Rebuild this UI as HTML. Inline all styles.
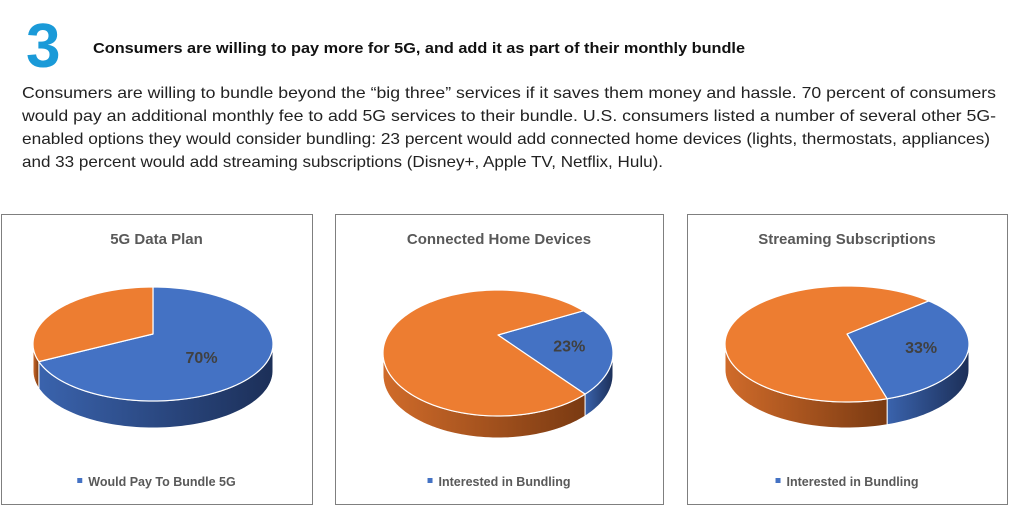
<!DOCTYPE html>
<html><head><meta charset="utf-8"><style>
html,body{margin:0;padding:0;background:#fff;width:1017px;height:517px;overflow:hidden}
svg{display:block}
</style></head><body>
<svg id="page" width="1017" height="517" viewBox="0 0 1017 517" xmlns="http://www.w3.org/2000/svg">
<defs>
<linearGradient id="gBlue" x1="0" x2="1" y1="0" y2="0"><stop offset="0" stop-color="#3a63ad"/><stop offset="1" stop-color="#1c2f58"/></linearGradient>
<linearGradient id="gOrange" x1="0" x2="1" y1="0" y2="0"><stop offset="0" stop-color="#d06b2a"/><stop offset="1" stop-color="#7a3a12"/></linearGradient>
</defs>
<text x="26" y="67" font-family="Liberation Sans, sans-serif" font-weight="bold" font-size="62" fill="#1a9ad8">3</text>
<text x="93" y="53" font-family="Liberation Sans, sans-serif" font-weight="bold" font-size="15" fill="#111" textLength="652" lengthAdjust="spacingAndGlyphs">Consumers are willing to pay more for 5G, and add it as part of their monthly bundle</text>
<g font-family="Liberation Sans, sans-serif" font-size="16" fill="#222">
<text x="22" y="98" textLength="974" lengthAdjust="spacingAndGlyphs">Consumers are willing to bundle beyond the “big three” services if it saves them money and hassle. 70 percent of consumers</text>
<text x="22" y="121" textLength="974" lengthAdjust="spacingAndGlyphs">would pay an additional monthly fee to add 5G services to their bundle. U.S. consumers listed a number of several other 5G-</text>
<text x="22" y="144" textLength="968" lengthAdjust="spacingAndGlyphs">enabled options they would consider bundling: 23 percent would add connected home devices (lights, thermostats, appliances)</text>
<text x="22" y="167" textLength="641" lengthAdjust="spacingAndGlyphs">and 33 percent would add streaming subscriptions (Disney+, Apple TV, Netflix, Hulu).</text>
</g>
<g id="charts"></g>
</svg>
<script>
const chartTitles = ["5G Data Plan", "Connected Home Devices", "Streaming Subscriptions"];
const legendLabels = ["Would Pay To Bundle 5G", "Interested in Bundling", "Interested in Bundling"];
const bluePercents = [70, 23, 33];
const startAngles = [0, 48, 42];

const NS = "http://www.w3.org/2000/svg";
const layout = [
  {x:1, w:311, cx:153, cy:344, rx:120, ry:57, d:27, vy:-10},
  {x:335, w:328, cx:498, cy:353, rx:115, ry:63, d:22, vy:-18},
  {x:687, w:320, cx:847, cy:344, rx:122, ry:58, d:26, vy:-10}
];
const root = document.getElementById('charts');
function mk(tag, attrs){const e=document.createElementNS(NS,tag);for(const k in attrs)e.setAttribute(k,attrs[k]);return e;}
function pt(L,a,dy){const r=a*Math.PI/180;return [L.cx+L.rx*Math.sin(r), L.cy-L.ry*Math.cos(r)+(dy||0)];}
function arcPath(L,a0,a1,dy){let s="";const n=Math.max(2,Math.ceil(Math.abs(a1-a0)/2));for(let i=0;i<=n;i++){const p=pt(L,a0+(a1-a0)*i/n,dy);s+=(i?"L":"")+p[0].toFixed(2)+","+p[1].toFixed(2);}return s;}

chartTitles.forEach((title,i)=>{
  const L = layout[i];
  const g = mk('g',{});
  
  
  root.appendChild(g);
  const frame = mk('rect',{x:L.x+0.5,y:214.5,width:L.w,height:290,fill:'#fff',stroke:'#7f7f7f','stroke-width':1});
  
  
  g.appendChild(frame);
  const t = mk('text',{x:L.x+L.w/2,y:244,'text-anchor':'middle','font-family':'Liberation Sans, sans-serif','font-weight':'bold','font-size':15,fill:'#595959'});
  t.textContent = title;
  
  
  g.appendChild(t);

  const bp = bluePercents[i];
  const s0 = startAngles[i];
  const slices = [
    {a0:s0, a1:s0+bp*3.6, top:'#4472c4', side:'url(#gBlue)', name:'slice-interested'},
    {a0:s0+bp*3.6, a1:s0+360, top:'#ed7d31', side:'url(#gOrange)', name:'slice-other'}
  ];
  // sides
  slices.forEach(sl=>{
    for (let k=0;k<2;k++){
      const lo=90+360*k, hi=270+360*k;
      const a=Math.max(sl.a0,lo), b=Math.min(sl.a1,hi);
      if (b<=a) continue;
      const top=arcPath(L,a,b,0), bot=arcPath(L,b,a,L.d);
      const p = mk('path',{d:'M'+top+'L'+bot.slice(0)+'Z',fill:sl.side,stroke:'#fff','stroke-width':1});
      
      
      g.appendChild(p);
    }
  });
  // tops
  slices.forEach(sl=>{
    const v=[L.cx, L.cy+L.vy];
    const p = mk('path',{d:'M'+v[0]+','+v[1]+'L'+arcPath(L,sl.a0,sl.a1,0)+'Z',fill:sl.top,stroke:'#fff','stroke-width':1.2,'stroke-linejoin':'round'});
    
    
    g.appendChild(p);
  });
  // label
  const mid=(slices[0].a0+slices[0].a1)/2, r=mid*Math.PI/180, f=i===0?0.5:0.62;
  const lx=L.cx+L.rx*Math.sin(r)*f, ly=L.cy-L.ry*Math.cos(r)*f+L.vy*0.4;
  const lab = mk('text',{x:lx,y:ly+6,'text-anchor':'middle','font-family':'Liberation Sans, sans-serif','font-weight':'bold','font-size':16,fill:'#404040'});
  lab.textContent = bp+'%';
  
  
  g.appendChild(lab);
  // legend
  const lt = mk('text',{x:0,y:486,'font-family':'Liberation Sans, sans-serif','font-weight':'bold','font-size':12.5,fill:'#595959'});
  lt.textContent = legendLabels[i];
  
  
  g.appendChild(lt);
  const w = lt.getComputedTextLength();
  const total = w+11, left = L.x+L.w/2-total/2;
  lt.setAttribute('x', left+11);
  const sw = mk('rect',{x:left,y:478,width:5,height:5,fill:'#4472c4'});
  
  
  g.appendChild(sw);
});
</script>
</body></html>
